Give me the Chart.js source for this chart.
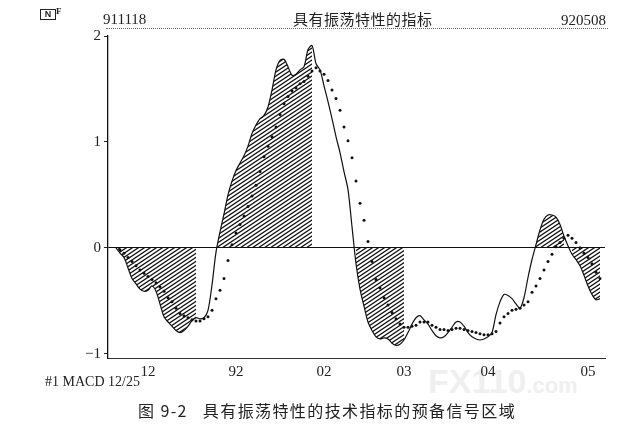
<!DOCTYPE html>
<html>
<head>
<meta charset="utf-8">
<script src="https://cdn.jsdelivr.net/npm/chart.js@4.4.1/dist/chart.umd.min.js"></script>
<style>
  body { margin: 0; background: #fff; }
  #wrap { position: relative; width: 638px; height: 431px; }
  #c { position: absolute; left: 0; top: 0; }
  .txt { position: absolute; color: #222; white-space: nowrap; }
  .serif { font-family: "Liberation Serif", "DejaVu Serif", serif; }
  .cjk { font-family: "Noto Sans CJK SC", sans-serif; }
</style>
</head>
<body>
<div id="wrap">
  <div class="txt" style="left:428px;top:362px;font:bold 34px 'Liberation Sans';color:#efefef;">FX110<span style="font-size:22px;">.com</span></div>
  <canvas id="c" width="638" height="431"></canvas>
  <div class="txt" style="left:40px;top:9px;width:14px;height:9px;border:1px solid #222;font:bold 9px 'Liberation Sans';line-height:9px;text-align:center;">N</div>
  <div class="txt serif" style="left:56px;top:6px;font-size:9px;font-weight:bold;">F</div>
  <div class="txt serif" style="left:103px;top:11px;font-size:15px;">911118</div>
  <div class="txt cjk" style="left:293px;top:8px;font-size:15px;letter-spacing:0.5px;">具有振荡特性的指标</div>
  <div class="txt serif" style="left:561px;top:12px;font-size:15px;">920508</div>
  <div style="position:absolute;left:106px;top:28px;width:502px;border-top:1px dotted #666;"></div>
  <div class="txt serif" style="left:45px;top:374px;font-size:14px;">#1 MACD 12/25</div>
  <div class="txt cjk" style="left:138px;top:399px;font-size:16px;line-height:22px;letter-spacing:1.4px;">图 9-2&nbsp;&nbsp;&nbsp;具有振荡特性的技术指标的预备信号区域</div>
</div>
<script>
// 911118 - 920508, one value per trading day
const days = Array.from({ length: 122 }, (_, i) => i);

const macd = [
  0, -0.05, -0.09, -0.19, -0.29, -0.34, -0.39, -0.41, -0.40, -0.36,
  -0.41, -0.53, -0.65, -0.70, -0.74, -0.78, -0.80, -0.78, -0.74, -0.69,
  -0.66, -0.67, -0.66, -0.59, -0.35, -0.04, 0.15, 0.32, 0.50, 0.63,
  0.73, 0.80, 0.87, 0.96, 1.08, 1.16, 1.22, 1.25, 1.33, 1.49,
  1.68, 1.77, 1.78, 1.71, 1.63, 1.64, 1.68, 1.71, 1.87, 1.91,
  1.74, 1.68, 1.53, 1.38, 1.22, 1.05, 0.90, 0.72, 0.55, 0.20,
  -0.15, -0.39, -0.55, -0.70, -0.78, -0.84, -0.86, -0.85, -0.86, -0.90,
  -0.92, -0.91, -0.87, -0.80, -0.72, -0.66, -0.64, -0.68, -0.72, -0.78,
  -0.83, -0.85, -0.84, -0.80, -0.75, -0.70, -0.70, -0.74, -0.80, -0.84,
  -0.86, -0.87, -0.86, -0.84, -0.80, -0.63, -0.51, -0.44, -0.45, -0.48,
  -0.53, -0.57, -0.47, -0.28, -0.11, 0.03, 0.17, 0.27, 0.31, 0.31,
  0.29, 0.22, 0.11, 0.02, -0.06, -0.11, -0.17, -0.26, -0.36, -0.44,
  -0.49, -0.48
];

const signal = [
  null, -0.02, -0.05, -0.09, -0.13, -0.17, -0.21, -0.24, -0.27, -0.30,
  -0.33, -0.37, -0.41, -0.47, -0.51, -0.57, -0.62, -0.64, -0.66, -0.68,
  -0.69, -0.69, -0.67, -0.65, -0.59, -0.48, -0.40, -0.29, -0.12, 0.03,
  0.14, 0.22, 0.30, 0.39, 0.49, 0.59, 0.72, 0.86, 0.96, 1.05,
  1.14, 1.26, 1.36, 1.43, 1.48, 1.51, 1.55, 1.57, 1.62, 1.67,
  1.70, 1.67, 1.64, 1.58, 1.49, 1.41, 1.30, 1.14, 1.01, 0.85,
  0.63, 0.42, 0.26, 0.06, -0.13, -0.30, -0.38, -0.47, -0.54, -0.61,
  -0.67, -0.72, -0.75, -0.75, -0.74, -0.73, -0.70, -0.70, -0.70, -0.73,
  -0.75, -0.77, -0.77, -0.78, -0.77, -0.76, -0.76, -0.77, -0.78, -0.79,
  -0.80, -0.81, -0.82, -0.82, -0.81, -0.79, -0.71, -0.65, -0.62, -0.59,
  -0.58, -0.57, -0.54, -0.51, -0.42, -0.36, -0.29, -0.21, -0.13, -0.06,
  0.01, 0.05, 0.09, 0.12, 0.09, 0.05, 0.00, -0.05, -0.09, -0.15,
  -0.23, -0.29
];

// signal zones (day index ranges) that are hatched
const hatchRanges = [[0, 20], [25, 49], [60, 72], [105, 112], [114, 121]];

// month ticks on the time axis
const tickIdx = [8, 30, 52, 72, 93, 118];
const tickText = ['12', '92', '02', '03', '04', '05'];

const yTicks = [-1, 0, 1, 2];

function inHatch(i) {
  return hatchRanges.some(r => i >= r[0] && i <= r[1]);
}
const hatched = macd.map((v, i) => inHatch(i) ? v : null);

function makeHatch() {
  const w = 6, h = 4;
  const cv = document.createElement('canvas');
  cv.width = w; cv.height = h;
  const g = cv.getContext('2d');
  g.strokeStyle = '#111';
  g.lineWidth = 1.3;
  for (const off of [-h, 0, h]) {
    g.beginPath();
    g.moveTo(-1, h + off + h / w);
    g.lineTo(w + 1, off - h / w);
    g.stroke();
  }
  return g.createPattern(cv, 'repeat');
}

const serif = '"Liberation Serif", "DejaVu Serif", serif';

new Chart(document.getElementById('c').getContext('2d'), {
  type: 'line',
  data: {
    labels: days,
    datasets: [
      {
        label: 'zone',
        data: hatched,
        borderWidth: 0,
        borderColor: 'rgba(0,0,0,0)',
        backgroundColor: makeHatch(),
        fill: 'origin',
        pointRadius: 0,
        tension: 0.3,
        spanGaps: false,
        order: 3
      },
      {
        label: 'MACD',
        data: macd,
        borderColor: '#111',
        borderWidth: 1.2,
        pointRadius: 0,
        fill: false,
        tension: 0.3,
        order: 2
      },
      {
        label: 'signal',
        data: signal,
        showLine: false,
        pointRadius: 1.5,
        pointBackgroundColor: '#111',
        pointBorderWidth: 0,
        order: 1
      }
    ]
  },
  options: {
    responsive: false,
    animation: false,
    layout: { padding: { top: 36, right: 33, left: 0, bottom: 0 } },
    plugins: { legend: { display: false }, tooltip: { enabled: false } },
    scales: {
      x: {
        type: 'linear',
        min: -2,
        max: 122.25,
        afterBuildTicks: s => { s.ticks = tickIdx.map(v => ({ value: v })); },
        afterFit: s => { s.height = 73; },
        grid: { display: false },
        border: { display: true, color: '#333', width: 1, dash: [1, 2] },
        ticks: {
          autoSkip: false,
          maxRotation: 0,
          padding: -3,
          color: '#222',
          font: { family: serif, size: 15 },
          callback: v => tickText[tickIdx.indexOf(v)]
        }
      },
      y: {
        min: -1.04,
        max: 2,
        afterBuildTicks: s => { s.ticks = yTicks.map(v => ({ value: v })); },
        afterFit: s => { s.width = 108; },
        grid: {
          drawOnChartArea: true,
          color: c => c.tick && c.tick.value === 0 ? '#111' : 'rgba(0,0,0,0)',
          tickColor: '#222',
          tickLength: 4,
          lineWidth: 1
        },
        border: { display: true, color: '#111', width: 1.3 },
        ticks: {
          padding: 3,
          color: '#222',
          font: { family: serif, size: 15 },
          callback: v => v < 0 ? '\u2212' + Math.abs(v) : String(v)
        }
      }
    }
  }
});
</script>
</body>
</html>
